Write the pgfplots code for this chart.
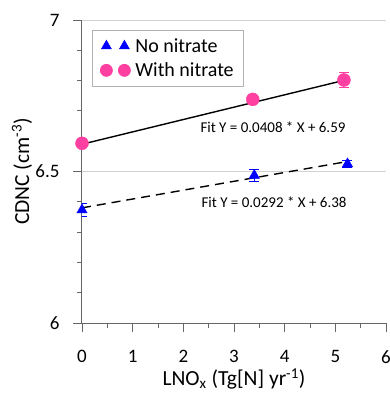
\documentclass[border=0pt]{standalone}
\usepackage{pgfplots}
\pgfplotsset{compat=1.18}
\usetikzlibrary{calc}
\usepackage{fontspec}
\setmainfont{Carlito}
\definecolor{mypink}{RGB}{255,64,160}
\definecolor{myblue}{RGB}{0,0,255}
\begin{document}
\begin{tikzpicture}
\begin{axis}[
  scale only axis, width=304pt, height=303pt,
  xmin=0, xmax=6, ymin=6, ymax=7,
  axis lines=left, axis line style={-, draw=gray!80!black, line width=1pt},
  xtick={0,1,...,6}, ytick={6,6.5,7},
  yticklabels={6,6.5,7},
  minor x tick num=1, minor y tick num=4,
  tick align=outside,
  major tick length=9pt, minor tick length=5pt,
  every tick/.style={draw=gray!80!black, line width=0.8pt},
  ymajorgrids, grid style={draw=gray!35, line width=0.6pt},
  tick label style={font=\fontsize{19}{22}\selectfont},
  /pgf/number format/assume math mode=true,
  xticklabel style={anchor=north, yshift=-15pt},
  yticklabel style={xshift=-10pt},
  xlabel={LNO\textsubscript{x} (Tg[N] yr\textsuperscript{-1})},
  ylabel={CDNC (cm\textsuperscript{-3})},
  label style={font=\fontsize{21.5}{24}\selectfont},
  xlabel style={at={(axis description cs:0.5,0)}, anchor=center, yshift=-56pt},
  ylabel style={at={(axis description cs:0,0.5)}, anchor=center, yshift=60pt},
  legend style={at={(0,1)}, anchor=north west, xshift=10pt, yshift=-10pt,
    draw=gray!60, line width=0.8pt, font=\fontsize{20}{23}\selectfont,
    row sep=5pt, inner xsep=8pt, inner ysep=6pt,
    /tikz/every odd column/.append style={column sep=3pt}},
  legend cell align=left,
  legend image code/.code={\draw[#1] plot coordinates {(0pt,0pt) (18pt,0pt)};},
]
\addlegendimage{only marks, mark=triangle*, mark size=5.5pt, color=myblue}
\addlegendentry{No nitrate}
\addlegendimage{only marks, mark=*, mark size=6pt, color=mypink}
\addlegendentry{With nitrate}

% fit lines
\addplot[forget plot, black, line width=1.4pt] coordinates {(0,6.59) (5.2,6.802)};
\addplot[forget plot, black, line width=1.4pt, dash pattern=on 9pt off 6pt] coordinates {(0,6.38) (5.24,6.533)};

% with nitrate
\addplot[forget plot, only marks, mark=*, mark size=6.5pt, color=mypink,
  error bars/.cd, y dir=both, y explicit, error bar style={line width=1pt}, error mark options={rotate=90, mark size=5pt, line width=1pt}]
  coordinates {
   (0,6.593) +- (0,0.008)
   (3.37,6.738) +- (0,0.012)
   (5.17,6.802) +- (0,0.025)
  };
% no nitrate
\addplot[forget plot, only marks, mark=triangle*, mark size=6pt, color=myblue,
  error bars/.cd, y dir=both, y explicit, error bar style={line width=1pt}, error mark options={rotate=90, mark size=5pt, line width=1pt}]
  coordinates {
   (0,6.373) +- (0,0.023)
   (3.4,6.487) +- (0,0.02)
   (5.24,6.525) +- (0,0.012)
  };

\node[font=\fontsize{15}{17}\selectfont] at (axis cs:3.77,6.647) {Fit Y = 0.0408 * X + 6.59};
\node[font=\fontsize{15}{17}\selectfont] at (axis cs:3.79,6.40) {Fit Y = 0.0292 * X + 6.38};
\end{axis}
\pgfresetboundingbox
\useasboundingbox ($(current axis.south west)+(-82pt,-70pt)$) rectangle ($(current axis.north east)+(4pt,20pt)$);
\end{tikzpicture}
\end{document}
